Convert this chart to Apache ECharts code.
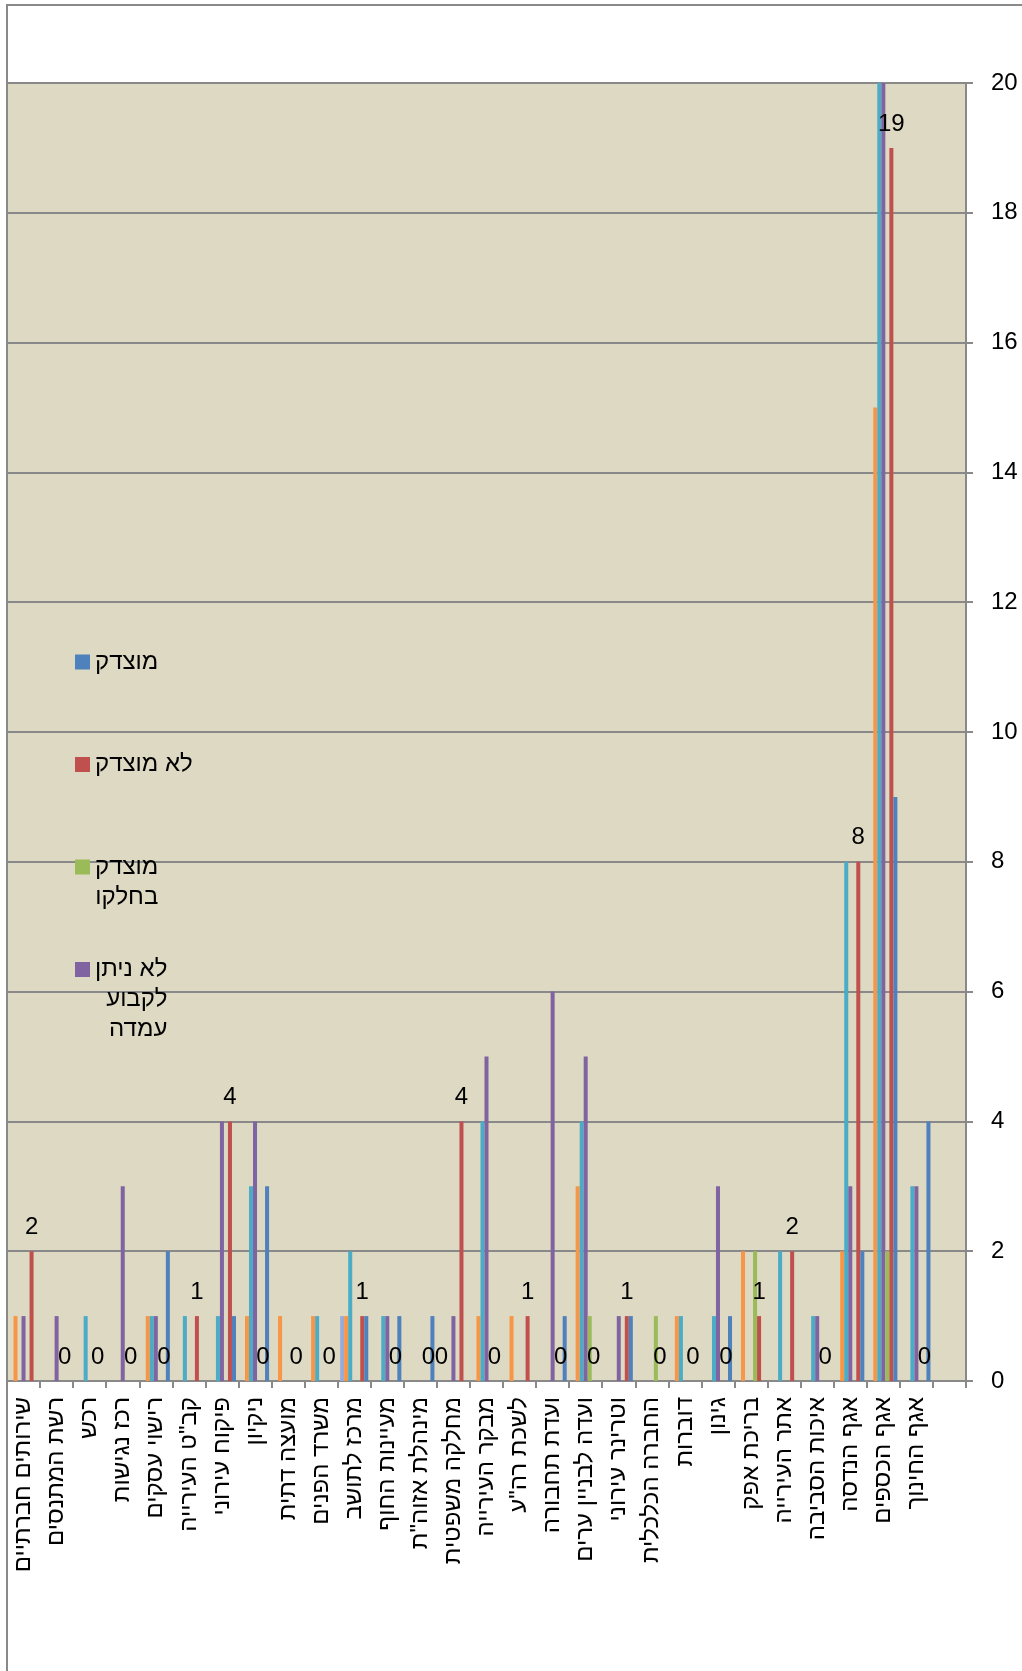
<!DOCTYPE html>
<html>
<head>
<meta charset="utf-8">
<script src="https://cdn.jsdelivr.net/npm/echarts@6/dist/echarts.min.js"></script>
<style>
  html, body { margin: 0; padding: 0; background: #ffffff; }
  #chart { width: 1022px; height: 1671px; }
</style>
</head>
<body>
<div id="chart"></div>
<script>
// Departments (left to right); the last slot is an empty category
const categories = [
  'שירותים חברתיים', 'רשת המתנסים', 'רכש', 'רכז נגישות', 'רישוי עסקים',
  'קב"ט העירייה', 'פיקוח עירוני', 'ניקיון', 'מועצה דתית', 'משרד הפנים',
  'מרכז לתושב', 'מעיינות החוף', 'מינהלת אזוה"ת', 'מחלקה משפטית', 'מבקר העירייה',
  'לשכת רה"ע', 'ועדת תחבורה', 'ועדה לבניין ערים', 'וטרינר עירוני', 'החברה הכלכלית',
  'דוברות', 'גינון', 'בריכת אפק', 'אתר העירייה', 'איכות הסביבה',
  'אגף הנדסה', 'אגף הכספים', 'אגף החינוך', ''
];

// Complaint counts per department
const justified      = [0,0,0,0,2,0,1,3,0,0,1,1,1,0,0,0,1,0,1,0,0,1,0,0,0,2,9,4,null];
const notJustified   = [2,0,0,0,0,1,4,0,0,0,1,0,0,4,0,1,0,0,1,0,0,0,1,2,0,8,19,0,null];
const partlyJustified= [0,0,0,0,0,0,0,0,0,0,0,0,0,0,0,0,0,1,0,1,0,0,2,0,0,0,2,0,null];
const undetermined   = [1,1,0,3,1,0,4,4,0,0,0,1,0,1,5,0,6,5,1,0,0,3,0,0,1,3,20,3,null];
const series5Values  = [0,0,1,0,1,1,1,3,0,1,2,1,0,0,4,0,0,4,0,0,1,1,0,2,1,8,20,3,null];
const series6Values  = [1,0,0,0,1,0,0,1,1,1,1,0,0,0,1,1,0,3,0,0,1,0,2,0,0,2,15,0,null];
const series7Values  = [0,0,0,0,0,0,0,0,0,0,1,0,0,0,0,0,0,0,0,0,0,0,0,0,0,0,0,0,null];
const series7Labelled = [13];

// Value axis ticks
const yMin = 0, yMax = 20, yStep = 2;

// Legend entries and their wrapped lines
const legendNames = ['מוצדק', 'לא מוצדק', 'מוצדק בחלקו', 'לא ניתן לקבוע עמדה'];
const legendLines = [['מוצדק'], ['לא מוצדק'], ['מוצדק', 'בחלקו'], ['לא ניתן', 'לקבוע', 'עמדה']];

const FONT = "'Liberation Sans', 'DejaVu Sans', Arial, sans-serif";
const GRID_GRAY = '#898989';
const LEGEND_LINE = 30;
const legendCenters = [662, 764.5, 867, 969.5];

const chart = echarts.init(document.getElementById('chart'), null, { renderer: 'canvas' });

function barSeries(name, values, color, extra) {
  return Object.assign({
    name: name,
    type: 'bar',
    data: values,
    barGap: '0%',
    barCategoryGap: '15%',
    itemStyle: { color: color },
    emphasis: { disabled: true },
    animation: false
  }, extra || {});
}

const dataLabel = {
  show: true,
  position: 'top',
  distance: 12,
  color: '#000000',
  fontSize: 24,
  fontFamily: FONT
};

// Each legend entry is its own single-item legend so wrapped names keep their first line beside the swatch
const legends = legendNames.map(function (name, i) {
  const lines = legendLines[i];
  const n = lines.length;
  const padLines = [];
  for (let k = 0; k < n - 1; k++) padLines.push('');
  const text = padLines.concat(lines.map(function (l) { return '{r|' + l + '}'; })).join('\n');
  const m = 2 * n - 1;
  return {
    data: [name],
    orient: 'vertical',
    left: 75,
    top: legendCenters[i] - m * LEGEND_LINE / 2,
    padding: 0,
    itemWidth: 15,
    itemHeight: 15,
    icon: 'rect',
    formatter: function () { return text; },
    textStyle: {
      fontFamily: FONT,
      fontSize: 24,
      color: '#000000',
      lineHeight: LEGEND_LINE,
      rich: { r: { align: 'right', fontFamily: FONT, fontSize: 24, color: '#000000', lineHeight: LEGEND_LINE } }
    }
  };
});

const option = {
  backgroundColor: '#ffffff',
  animation: false,
  textStyle: { fontFamily: FONT },
  legend: legends,
  graphic: [{
    type: 'rect',
    shape: { x: 7, y: 5, width: 1200, height: 2000 },
    style: { fill: 'none', stroke: GRID_GRAY, lineWidth: 2 },
    silent: true,
    z: 100
  }],
  grid: {
    left: 7, right: 56, top: 83, bottom: 290,
    show: true,
    backgroundColor: '#DDD9C3',
    borderWidth: 0,
    containLabel: false
  },
  xAxis: {
    type: 'category',
    data: categories,
    boundaryGap: true,
    axisLine: { show: true, lineStyle: { color: GRID_GRAY, width: 2 } },
    axisTick: { show: true, length: 7, lineStyle: { color: GRID_GRAY, width: 2 } },
    axisLabel: {
      interval: 0,
      rotate: 90,
      margin: 16,
      color: '#000000',
      fontSize: 24,
      fontFamily: FONT
    },
    splitLine: { show: false }
  },
  yAxis: {
    type: 'value',
    position: 'right',
    min: yMin, max: yMax, interval: yStep,
    axisLine: { show: true, lineStyle: { color: GRID_GRAY, width: 2 } },
    axisTick: { show: true, length: 7, lineStyle: { color: GRID_GRAY, width: 2 } },
    axisLabel: { margin: 25, color: '#000000', fontSize: 24, fontFamily: FONT },
    splitLine: { show: true, lineStyle: { color: GRID_GRAY, width: 2 } }
  },
  series: [
    barSeries('סדרה7', series7Values.map(function (v, i) {
      return series7Labelled.indexOf(i) >= 0 ? { value: v, label: dataLabel } : v;
    }), '#9AAAD8'),
    barSeries('סדרה6', series6Values, '#F79646'),
    barSeries('סדרה5', series5Values, '#4BACC6'),
    barSeries('לא ניתן לקבוע עמדה', undetermined, '#8064A2'),
    barSeries('מוצדק בחלקו', partlyJustified, '#9BBB59'),
    barSeries('לא מוצדק', notJustified, '#C0504D', { label: dataLabel }),
    barSeries('מוצדק', justified, '#4F81BD')
  ]
};

chart.setOption(option);
</script>
</body>
</html>
